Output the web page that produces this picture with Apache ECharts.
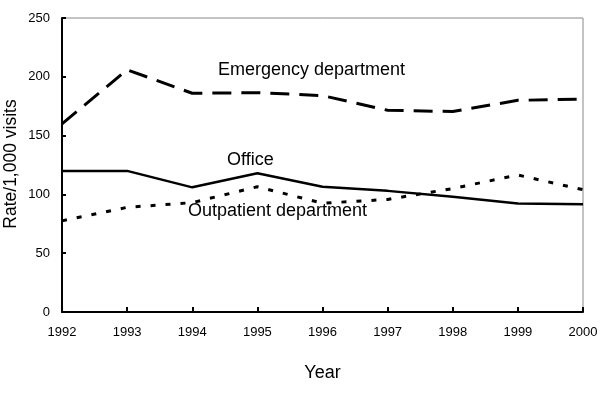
<!DOCTYPE html>
<html><head><meta charset="utf-8">
<script src="https://cdn.jsdelivr.net/npm/echarts@6/dist/echarts.min.js"></script>
<style>html,body{margin:0;padding:0;background:#fff}#c{width:600px;height:400px}</style>
</head><body><div id="c"></div>
<script>
var years = ['1992','1993','1994','1995','1996','1997','1998','1999','2000'];
var emergency = [160, 206, 186, 186.5, 184, 171.5, 170.5, 180, 181];
var office = [120, 120, 106, 118, 106.5, 103, 98, 92.2, 91.7];
var outpatient = [77.5, 89, 93, 106.5, 92.5, 95.7, 105, 116.5, 104];
var yTicks = [0, 50, 100, 150, 200, 250];
var yName = 'Rate/1,000 visits';

var font = 'Liberation Sans, Arial, sans-serif';
var chart = echarts.init(document.getElementById('c'));
chart.setOption({
  animation: false,
  backgroundColor: '#fff',
  grid: {left: 62, right: 17, top: 18, bottom: 88, show: true, borderColor: '#888', borderWidth: 1,
         containLabel: false, outerBoundsMode: 'none'},
  xAxis: {
    type: 'category', data: years, boundaryGap: false,
    name: 'Year', nameLocation: 'middle', nameGap: 52,
    nameTextStyle: {fontFamily: font, fontSize: 18, color: '#000'},
    axisLine: {lineStyle: {color: '#000', width: 2}},
    axisTick: {show: true, length: 5, inside: true, lineStyle: {color: '#000', width: 2}},
    axisLabel: {fontFamily: font, fontSize: 13, color: '#000', margin: 14},
    splitLine: {show: false}
  },
  yAxis: {
    type: 'value', min: yTicks[0], max: yTicks[yTicks.length-1], interval: 50,
    axisLine: {show: true, lineStyle: {color: '#000', width: 2}},
    axisTick: {show: true, length: 4, inside: true, lineStyle: {color: '#000', width: 2}},
    axisLabel: {fontFamily: font, fontSize: 13, color: '#000', margin: 12},
    splitLine: {show: false}
  },
  series: [
    {name: 'Emergency department', type: 'line', data: emergency, showSymbol: false,
     lineStyle: {color: '#000', width: 3, type: [19, 10]}},
    {name: 'Office', type: 'line', data: office, showSymbol: false,
     lineStyle: {color: '#000', width: 2.5}},
    {name: 'Outpatient department', type: 'line', data: outpatient, showSymbol: false,
     lineStyle: {color: '#000', width: 3, type: [5, 10]}}
  ],
  graphic: [
    {type: 'text', x: 11, y: 164, rotation: Math.PI / 2 * -1 * -1 > 0 ? Math.PI / 2 : 0,
     style: {text: yName, font: '17.5px ' + font, fill: '#000', align: 'center', verticalAlign: 'middle'}},
    {type: 'text', left: 218, top: 61, style: {text: 'Emergency department', font: '18px ' + font, fill: '#000'}},
    {type: 'text', left: 227, top: 151, style: {text: 'Office', font: '18px ' + font, fill: '#000'}},
    {type: 'text', left: 188, top: 202, style: {text: 'Outpatient department', font: '18px ' + font, fill: '#000'}}
  ]
});
</script></body></html>
